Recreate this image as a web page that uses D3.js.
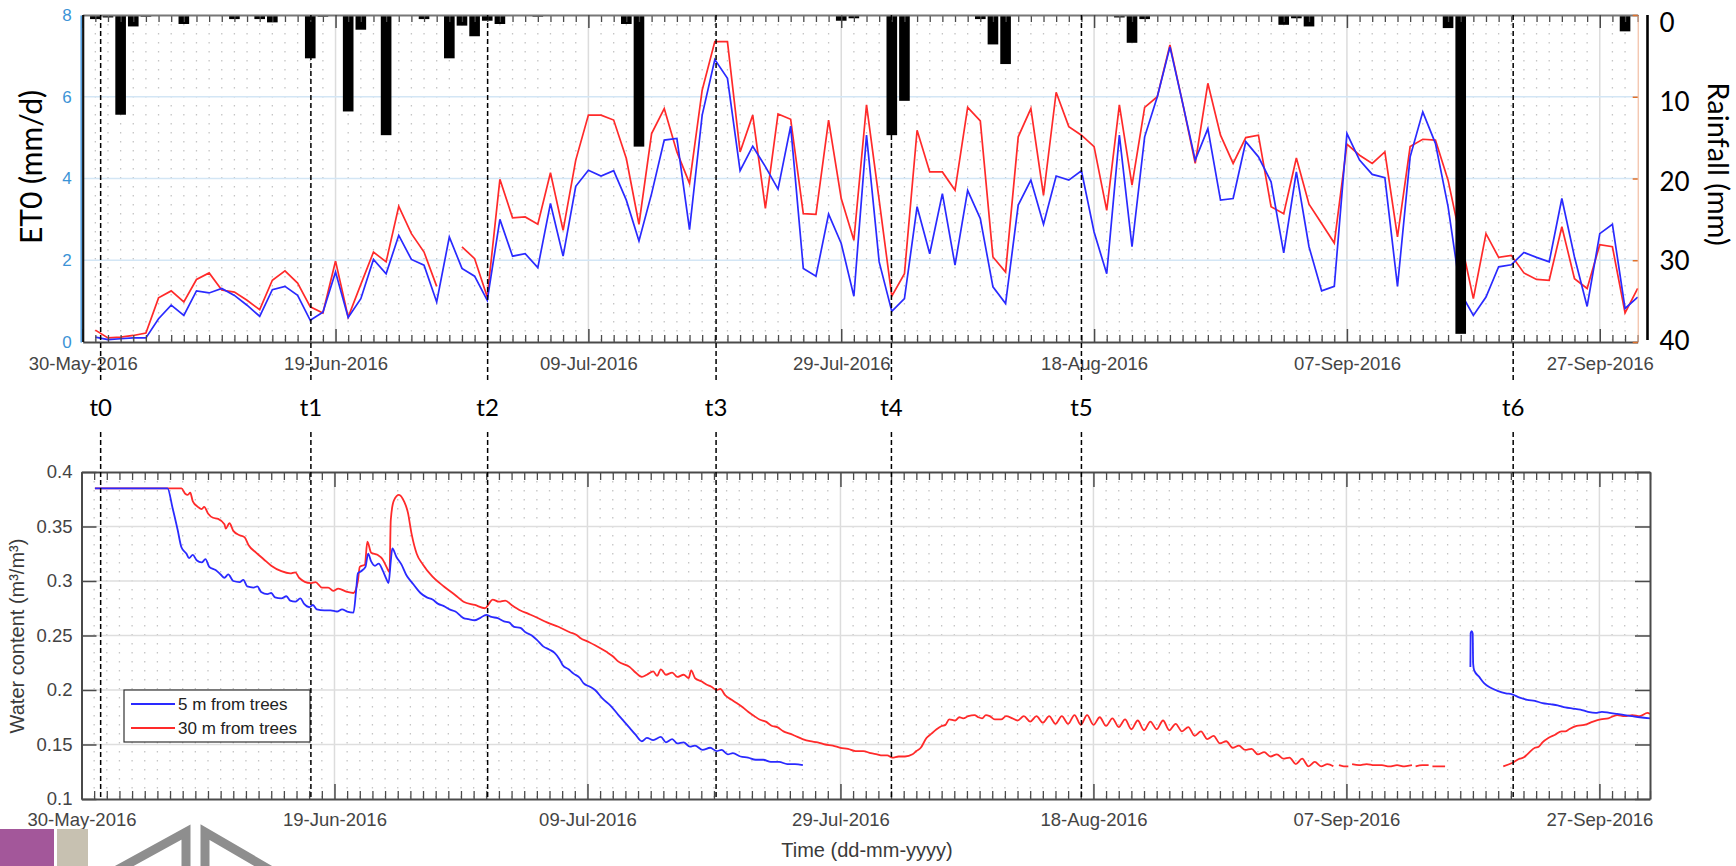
<!DOCTYPE html>
<html>
<head>
<meta charset="utf-8">
<script src="https://cdn.jsdelivr.net/npm/d3@7"></script>
<style>
  html, body { margin: 0; padding: 0; background: #fff; }
  svg { display: block; }
</style>
</head>
<body>
<svg id="chart" width="1736" height="866"></svg>
<script>
// ---------------------------------------------------------------------------
// Data (day offsets are counted from 30-May-2016 00:00)
// ---------------------------------------------------------------------------
const startDay = "2016-05-30";

// Daily ET0 (mm/d), first value on day 1 (31-May-2016)
const et0Blue = [
  0.12, 0.06, 0.08, 0.10, 0.10, 0.57, 0.90, 0.65, 1.25, 1.20,
  1.31, 1.14, 0.90, 0.63, 1.28, 1.36, 1.14, 0.53, 0.73, 1.71,
  0.60, 1.06, 2.02, 1.67, 2.61, 2.02, 1.88, 0.98, 2.57, 1.80,
  1.61, 1.02, 3.00, 2.10, 2.16, 1.82, 3.39, 2.10, 3.81, 4.20,
  4.06, 4.19, 3.47, 2.47, 3.63, 4.94, 4.98, 2.75, 5.55, 6.91,
  6.45, 4.19, 4.79, 4.29, 3.74, 5.28, 1.80, 1.61, 3.13, 2.41,
  1.12, 5.06, 1.96, 0.75, 1.06, 3.31, 2.16, 3.63, 1.88, 3.71,
  3.02, 1.35, 0.94, 3.35, 3.96, 2.88, 4.06, 3.96, 4.19, 2.69,
  1.67, 5.06, 2.33, 5.02, 6.00, 7.22, 5.85, 4.45, 5.22, 3.47,
  3.51, 4.90, 4.53, 3.92, 2.18, 4.16, 2.33, 1.25, 1.36, 5.10,
  4.45, 4.10, 4.02, 1.36, 4.53, 5.63, 4.86, 3.31, 1.20, 0.65,
  1.10, 1.84, 1.89, 2.19, 2.07, 1.96, 3.51, 2.08, 0.87, 2.65,
  2.88, 0.82, 1.10
];
const et0Red = [
  0.29, 0.10, 0.12, 0.16, 0.22, 1.08, 1.25, 0.98, 1.53, 1.69,
  1.27, 1.22, 1.02, 0.79, 1.51, 1.74, 1.44, 0.86, 0.71, 1.98,
  0.61, 1.41, 2.20, 1.96, 3.32, 2.65, 2.20, 1.36, null, 2.33,
  2.04, 1.10, 3.98, 3.04, 3.06, 2.88, 4.14, 2.73, 4.45, 5.55,
  5.55, 5.43, 4.49, 2.88, 5.10, 5.71, 4.65, 3.88, 6.16, 7.35,
  7.35, 4.65, 5.55, 3.27, 5.58, 5.45, 3.14, 3.12, 5.43, 3.51,
  2.49, 5.80, 3.47, 1.12, 1.67, 5.18, 4.16, 4.16, 3.71, 5.74,
  5.41, 2.08, 1.71, 5.02, 5.71, 3.59, 6.11, 5.27, 5.06, 4.78,
  3.22, 5.80, 3.84, 5.74, 6.00, 7.27, 5.85, 4.37, 6.33, 5.06,
  4.37, 5.00, 5.06, 3.31, 3.14, 4.50, 3.37, 2.90, 2.42, 4.84,
  4.57, 4.37, 4.65, 2.57, 4.78, 4.96, 4.94, 3.96, 2.50, 1.06,
  2.65, 2.07, 2.12, 1.69, 1.53, 1.51, 2.82, 1.55, 1.31, 2.38,
  2.33, 0.71, 1.31
];

// Daily rainfall (mm)
const rainDays = [1, 2, 3, 4, 5, 8, 12, 14, 15, 18, 19, 21, 22, 24, 27, 29, 30, 31, 32, 33,
  36, 43, 44, 60, 61, 64, 65, 71, 72, 73, 82, 83, 84, 95, 96, 97, 108, 109, 122];
const rainMm = [0.5, 0.3, 12.2, 1.4, 0.2, 1.1, 0.5, 0.5, 0.9, 5.3, 0.2, 11.8, 1.8, 14.7, 0.5, 5.3, 1.3, 2.6, 0.7, 1.1,
  0.2, 1.1, 16.1, 0.7, 0.4, 14.7, 10.5, 0.5, 3.6, 6.0, 0.3, 3.4, 0.5, 1.2, 0.4, 1.4, 1.6, 39.0, 2.0];

// Soil water content (m3/m3): [day offset, value]; null marks a data gap
const wc5m = [
  [1.06, 0.385], [6.8, 0.385], [7.2, 0.367], [7.6, 0.347], [7.9, 0.331], [8.3, 0.325], [8.5, 0.321],
  [8.8, 0.324], [9.1, 0.319], [9.5, 0.317], [9.8, 0.320], [10.1, 0.313], [10.6, 0.310], [11.0, 0.306],
  [11.3, 0.303], [11.6, 0.306], [12.0, 0.300], [12.5, 0.299], [12.8, 0.301], [13.1, 0.295], [13.6, 0.294],
  [13.9, 0.295], [14.2, 0.290], [14.7, 0.288], [15.0, 0.289], [15.3, 0.285], [15.8, 0.284], [16.2, 0.286],
  [16.5, 0.282], [16.9, 0.281], [17.3, 0.284], [17.6, 0.279], [18.0, 0.276], [18.3, 0.278], [18.6, 0.274],
  [19.2, 0.273], [19.7, 0.273], [20.2, 0.272], [20.6, 0.274], [21.0, 0.272], [21.5, 0.271], [21.7, 0.290],
  [21.85, 0.307], [22.1, 0.309], [22.45, 0.313], [22.66, 0.325], [22.9, 0.318], [23.2, 0.314], [23.5, 0.316],
  [23.8, 0.310], [24.1, 0.302], [24.27, 0.298], [24.45, 0.318], [24.57, 0.330], [24.9, 0.322], [25.3, 0.315],
  [25.7, 0.305], [26.1, 0.299], [26.5, 0.293], [26.8, 0.289], [27.3, 0.285], [27.75, 0.283], [28.2, 0.279],
  [28.65, 0.277], [29.1, 0.274], [29.56, 0.272], [30.2, 0.266], [30.6, 0.265], [31.07, 0.264], [31.5, 0.266],
  [32.0, 0.269], [32.4, 0.267], [32.9, 0.266], [33.4, 0.263], [33.8, 0.262], [34.2, 0.258], [34.7, 0.257],
  [35.1, 0.253], [35.6, 0.250], [36.0, 0.246], [36.5, 0.240], [37.0, 0.237], [37.4, 0.234], [37.8, 0.228],
  [38.03, 0.223], [38.5, 0.219], [38.9, 0.215], [39.4, 0.211], [39.7, 0.206], [40.2, 0.203], [40.6, 0.200],
  [41.2, 0.192], [41.8, 0.186], [42.45, 0.177], [42.9, 0.171], [43.35, 0.165], [43.8, 0.159], [44.3, 0.153],
  [44.7, 0.156], [45.2, 0.154], [45.8, 0.157], [46.2, 0.152], [46.7, 0.155], [47.1, 0.151], [47.6, 0.152],
  [48.1, 0.148], [48.5, 0.149], [49.1, 0.145], [49.7, 0.147], [50.2, 0.144], [50.6, 0.145], [51.1, 0.141],
  [51.5, 0.142], [52.1, 0.139], [52.7, 0.138], [53.3, 0.136], [53.9, 0.136], [54.5, 0.134], [55.15, 0.134],
  [55.8, 0.132], [56.4, 0.132], [57.03, 0.131],
  [80.0, null],
  [109.80, 0.221], [109.82, 0.252], [109.90, 0.254], [109.98, 0.252], [110.02, 0.224], [110.1, 0.218],
  [110.5, 0.212], [110.9, 0.206], [111.4, 0.202], [112.0, 0.199], [112.6, 0.197], [113.1, 0.196],
  [113.7, 0.193], [114.3, 0.191], [114.9, 0.190], [115.5, 0.188], [116.1, 0.187], [116.7, 0.186],
  [117.3, 0.184], [117.9, 0.183], [118.5, 0.182], [119.1, 0.180], [119.7, 0.179], [120.2, 0.180],
  [120.8, 0.179], [121.4, 0.178], [122.0, 0.177], [122.6, 0.176], [123.2, 0.175], [124.0, 0.174]
];
const wc30m = [
  [1.06, 0.385], [7.9, 0.385], [8.2, 0.380], [8.4, 0.379], [8.6, 0.381], [8.8, 0.373], [9.2, 0.368],
  [9.5, 0.366], [9.7, 0.368], [10.0, 0.362], [10.4, 0.358], [10.8, 0.357], [11.3, 0.352], [11.4, 0.348],
  [11.7, 0.353], [12.0, 0.346], [12.5, 0.342], [12.9, 0.340], [13.2, 0.333], [13.8, 0.326], [14.4, 0.320],
  [15.0, 0.314], [15.8, 0.309], [16.5, 0.307], [16.9, 0.308], [17.2, 0.303], [18.1, 0.298], [18.5, 0.299],
  [19.0, 0.294], [19.5, 0.294], [19.9, 0.291], [20.3, 0.293], [21.0, 0.290], [21.5, 0.289], [21.85, 0.300],
  [22.0, 0.313], [22.4, 0.315], [22.6, 0.336], [22.9, 0.326], [23.4, 0.324], [23.8, 0.320], [24.15, 0.312],
  [24.35, 0.308], [24.45, 0.356], [24.7, 0.374], [25.1, 0.379], [25.5, 0.373], [25.8, 0.363], [26.1, 0.343],
  [26.5, 0.325], [27.0, 0.315], [27.75, 0.304], [28.65, 0.295], [29.56, 0.287], [30.2, 0.281], [31.1, 0.278],
  [31.9, 0.275], [32.2, 0.279], [32.5, 0.283], [33.0, 0.281], [33.5, 0.282], [34.0, 0.278], [34.7, 0.273],
  [35.3, 0.270], [35.9, 0.267], [36.8, 0.262], [37.7, 0.258], [38.6, 0.253], [39.2, 0.250], [39.4, 0.248],
  [40.1, 0.244], [40.6, 0.241], [41.5, 0.235], [42.0, 0.231], [42.45, 0.226], [43.35, 0.221], [43.8, 0.216],
  [44.3, 0.212], [44.7, 0.214], [45.2, 0.217], [45.5, 0.213], [45.8, 0.219], [46.2, 0.214], [46.7, 0.216],
  [47.1, 0.212], [47.6, 0.214], [48.0, 0.211], [48.2, 0.218], [48.5, 0.211], [49.0, 0.208], [49.4, 0.205],
  [49.8, 0.203], [50.2, 0.200], [50.5, 0.201], [50.9, 0.195], [51.4, 0.191], [51.8, 0.188], [52.3, 0.184],
  [52.7, 0.180], [53.2, 0.176], [53.6, 0.173], [54.1, 0.171], [54.6, 0.167], [55.0, 0.166], [55.5, 0.162],
  [56.0, 0.160], [56.4, 0.158], [57.0, 0.155], [57.6, 0.153], [58.2, 0.152], [58.8, 0.150], [59.4, 0.149],
  [60.0, 0.147], [60.6, 0.146], [61.2, 0.144], [61.8, 0.144], [62.4, 0.142], [62.9, 0.141], [63.3, 0.140],
  [63.7, 0.140], [64.1, 0.138], [64.6, 0.139], [65.1, 0.139], [65.7, 0.141], [66.0, 0.144], [66.35, 0.147],
  [66.8, 0.156], [67.2, 0.160], [67.6, 0.164], [68.0, 0.167], [68.3, 0.168], [68.6, 0.173], [69.07, 0.172],
  [69.4, 0.175], [69.7, 0.174], [70.1, 0.176], [70.6, 0.177], [70.9, 0.175], [71.2, 0.174], [71.5, 0.177],
  [71.8, 0.176], [72.2, 0.173], [72.7, 0.173], [73.1, 0.176], [73.6, 0.174], [74.0, 0.172], [74.5, 0.176],
  [75.0, 0.171], [75.5, 0.176], [76.0, 0.170], [76.5, 0.176], [77.0, 0.169], [77.5, 0.176], [78.0, 0.169],
  [78.5, 0.177], [79.0, 0.168], [79.5, 0.177], [80.0, 0.168], [80.5, 0.175], [81.0, 0.167], [81.5, 0.174],
  [82.0, 0.166], [82.5, 0.173], [83.0, 0.164], [83.5, 0.172], [84.0, 0.163], [84.5, 0.171], [85.0, 0.164],
  [85.5, 0.172], [86.0, 0.163], [86.5, 0.169], [87.0, 0.162], [87.5, 0.166], [88.0, 0.158], [88.5, 0.162],
  [89.0, 0.155], [89.5, 0.158], [90.0, 0.151], [90.5, 0.153], [91.0, 0.147], [91.5, 0.149], [92.0, 0.145],
  [92.5, 0.146], [93.0, 0.141], [93.5, 0.143], [94.0, 0.139], [94.5, 0.141], [95.0, 0.137], [95.5, 0.138],
  [96.0, 0.132], [96.5, 0.137], [97.0, 0.130], [97.5, 0.134], [98.0, 0.130], [98.5, 0.132], [98.97, 0.130],
  [99.2, null],
  [99.41, 0.131], [99.8, 0.130], [100.15, 0.130],
  [100.3, null],
  [100.45, 0.132], [101.0, 0.131], [101.6, 0.132], [102.2, 0.131], [102.8, 0.131], [103.4, 0.130],
  [104.0, 0.131], [104.6, 0.130], [105.18, 0.131],
  [105.3, null],
  [105.47, 0.130], [106.0, 0.131], [106.5, 0.131],
  [106.6, null],
  [106.8, 0.130], [107.3, 0.130], [107.8, 0.130],
  [110.0, null],
  [112.4, 0.130], [113.1, 0.133], [113.7, 0.137], [114.0, 0.138], [114.3, 0.141], [114.9, 0.147],
  [115.2, 0.148], [115.5, 0.152], [115.96, 0.156], [116.5, 0.159], [117.0, 0.162], [117.3, 0.162],
  [117.6, 0.164], [118.2, 0.167], [118.8, 0.168], [119.5, 0.171], [120.1, 0.173], [120.7, 0.174],
  [121.4, 0.177], [122.0, 0.176], [122.6, 0.177], [123.2, 0.176], [123.8, 0.179], [124.0, 0.178]
];

// Event markers
const markerNames = ["t0", "t1", "t2", "t3", "t4", "t5", "t6"];
const markerDays = [1.42, 18.05, 32.03, 50.1, 63.97, 79.0, 113.15];

// Axis ticks
const et0Ticks = [0, 2, 4, 6, 8];
const rainTicks = [0, 10, 20, 30, 40];
const wcTicks = [0.1, 0.15, 0.2, 0.25, 0.3, 0.35, 0.4];
const majorTickDays = [0, 20, 40, 60, 80, 100, 120];

const seriesNames = ["5 m from trees", "30 m from trees"];
const blue = "#2a2aff", red = "#ff2a2a";

// ---------------------------------------------------------------------------
const DAY = 864e5;
const T0 = Date.parse(startDay + "T00:00:00Z");
const dayToDate = d => new Date(T0 + d * DAY);
const fmt = d3.utcFormat("%d-%b-%Y");
const mFont = "'Liberation Sans', Arial, sans-serif";
const oFont = "Lato, 'Open Sans', sans-serif";
const axisGray = "#4a4a4a";

const svg = d3.select("#chart");
svg.append("rect").attr("width", 1736).attr("height", 866).attr("fill", "#fff");

// ============================== ET0 / rainfall panel ==============================
const tb = { l: 82.7, r: 1637.7, t: 15, b: 342 };
const xTop = d3.scaleUtc().domain([dayToDate(0), dayToDate(123)]).range([tb.l, tb.r]);
const yEt = d3.scaleLinear().domain([0, 8]).range([tb.b, tb.t]);
const yRain = d3.scaleLinear().domain([0, 40]).range([tb.t, tb.b]);
const yRainLabels = d3.scaleLinear().domain([0, 40]).range([23, 341]);

const gTop = svg.append("g");

// minor (daily) dotted grid
gTop.append("g").selectAll("line")
  .data(d3.range(1, 123).filter(d => d % 20 !== 0))
  .join("line")
  .attr("x1", d => xTop(dayToDate(d))).attr("x2", d => xTop(dayToDate(d)))
  .attr("y1", tb.t).attr("y2", tb.b)
  .attr("stroke", "#c4c4c4").attr("stroke-width", 1.3).attr("stroke-dasharray", "1.4,7.6");
// major vertical grid
gTop.append("g").selectAll("line")
  .data(majorTickDays.slice(1))
  .join("line")
  .attr("x1", d => xTop(dayToDate(d))).attr("x2", d => xTop(dayToDate(d)))
  .attr("y1", tb.t).attr("y2", tb.b)
  .attr("stroke", "#dcdcdc").attr("stroke-width", 1.5);
// horizontal ET0 grid
gTop.append("g").selectAll("line")
  .data(et0Ticks.slice(1, -1))
  .join("line")
  .attr("x1", tb.l).attr("x2", tb.r)
  .attr("y1", d => yEt(d)).attr("y2", d => yEt(d))
  .attr("stroke", "#d3e6f5").attr("stroke-width", 1.5);

// ET0 lines
const etLine = d3.line()
  .defined(d => d[1] != null)
  .x(d => xTop(dayToDate(d[0])))
  .y(d => yEt(d[1]));
const asPairs = arr => arr.map((v, i) => [i + 1, v]);
gTop.append("path").datum(asPairs(et0Red)).attr("d", etLine)
  .attr("fill", "none").attr("stroke", red).attr("stroke-width", 1.7);
gTop.append("path").datum(asPairs(et0Blue)).attr("d", etLine)
  .attr("fill", "none").attr("stroke", blue).attr("stroke-width", 1.7);

// rainfall bars hanging from the top
gTop.append("g").selectAll("rect")
  .data(rainDays.map((d, i) => [d, rainMm[i]]))
  .join("rect")
  .attr("x", d => xTop(dayToDate(d[0] - 0.42)))
  .attr("width", d => xTop(dayToDate(d[0] + 0.42)) - xTop(dayToDate(d[0] - 0.42)))
  .attr("y", yRain(0))
  .attr("height", d => yRain(d[1]) - yRain(0))
  .attr("fill", "#000");

// x axes (bottom + top edges)
function styleTicks(g, color, width) {
  g.selectAll(".tick line").attr("stroke", color).attr("stroke-width", width);
}
const minorTop = d3.range(0, 124).filter(d => d % 20 !== 0).map(dayToDate);
const majorDates = majorTickDays.map(dayToDate);

gTop.append("g").attr("transform", `translate(0,${tb.b})`)
  .call(d3.axisBottom(xTop).tickValues(minorTop).tickSize(-7).tickSizeOuter(0).tickFormat(""))
  .call(g => g.select(".domain").remove())
  .call(g => styleTicks(g, axisGray, 1.3));
gTop.append("g").attr("transform", `translate(0,${tb.b})`)
  .call(d3.axisBottom(xTop).tickValues(majorDates).tickSize(-13).tickSizeOuter(0).tickPadding(15).tickFormat(fmt))
  .call(g => g.select(".domain").attr("stroke", axisGray).attr("stroke-width", 2))
  .call(g => styleTicks(g, axisGray, 1.5))
  .call(g => g.selectAll("text").attr("fill", "#444").style("font", `18.5px ${mFont}`));
gTop.append("g").attr("transform", `translate(0,${tb.t})`)
  .call(d3.axisTop(xTop).tickValues(minorTop).tickSize(-7).tickSizeOuter(0).tickFormat(""))
  .call(g => g.select(".domain").remove())
  .call(g => styleTicks(g, axisGray, 1.3));
gTop.append("g").attr("transform", `translate(0,${tb.t})`)
  .call(d3.axisTop(xTop).tickValues(majorDates).tickSize(-13).tickSizeOuter(0).tickFormat(""))
  .call(g => g.select(".domain").attr("stroke", "#777").attr("stroke-width", 2))
  .call(g => styleTicks(g, axisGray, 1.5));

// left ET0 axis
gTop.append("g").attr("transform", `translate(${tb.l - 2},0)`)
  .call(d3.axisLeft(yEt).tickValues(et0Ticks).tickSize(0).tickPadding(9).tickFormat(d3.format("d")))
  .call(g => g.select(".domain").attr("stroke", "#4b9be0").attr("stroke-width", 1.5))
  .call(g => g.selectAll("text").attr("fill", "#3b93d6").style("font", `17px ${mFont}`));
gTop.append("line")
  .attr("x1", tb.l + 0.5).attr("x2", tb.l + 0.5).attr("y1", tb.t).attr("y2", tb.b)
  .attr("stroke", "#111").attr("stroke-width", 2.2);

// right rainfall axis ticks (inside the plot box)
gTop.append("g").attr("transform", `translate(${tb.r},0)`)
  .call(d3.axisRight(yRain).tickValues(rainTicks).tickSize(-5).tickSizeOuter(0).tickFormat(""))
  .call(g => g.select(".domain").attr("stroke", "#f0b090").attr("stroke-width", 1))
  .call(g => styleTicks(g, "#e0702a", 1.5));

// rainfall scale drawn beside the plot
gTop.append("line")
  .attr("x1", 1647.5).attr("x2", 1647.5).attr("y1", yRain(0)).attr("y2", yRain(40) - 2)
  .attr("stroke", "#000").attr("stroke-width", 2.6);
gTop.append("g").attr("transform", "translate(1647.5,0)")
  .call(d3.axisRight(yRainLabels).tickValues(rainTicks).tickSize(0).tickPadding(12).tickFormat(d3.format("d")))
  .call(g => g.select(".domain").remove())
  .call(g => g.selectAll("text").attr("fill", "#000").style("font", `26px ${oFont}`));

// panel titles
svg.append("text")
  .attr("transform", "translate(42,167) rotate(-90)")
  .attr("text-anchor", "middle")
  .style("font", `30px ${oFont}`).attr("fill", "#000")
  .text("ET0 (mm/d)");
svg.append("text")
  .attr("transform", "translate(1708,164) rotate(90)")
  .attr("text-anchor", "middle")
  .style("font", `29px ${oFont}`).attr("fill", "#000")
  .text("Rainfall (mm)");

// ============================== water content panel ==============================
const bb = { l: 81.5, r: 1650, t: 472, b: 799 };
const xBot = d3.scaleUtc().domain([dayToDate(0), dayToDate(124)]).range([bb.l, bb.r]);
const yWc = d3.scaleLinear().domain([0.1, 0.4]).range([bb.b, bb.t]);

const gBot = svg.append("g");
gBot.append("g").selectAll("line")
  .data(d3.range(1, 124).filter(d => d % 20 !== 0))
  .join("line")
  .attr("x1", d => xBot(dayToDate(d))).attr("x2", d => xBot(dayToDate(d)))
  .attr("y1", bb.t).attr("y2", bb.b)
  .attr("stroke", "#c4c4c4").attr("stroke-width", 1.3).attr("stroke-dasharray", "1.4,7.6");
gBot.append("g").selectAll("line")
  .data(majorTickDays.slice(1))
  .join("line")
  .attr("x1", d => xBot(dayToDate(d))).attr("x2", d => xBot(dayToDate(d)))
  .attr("y1", bb.t).attr("y2", bb.b)
  .attr("stroke", "#dcdcdc").attr("stroke-width", 1.5);
gBot.append("g").selectAll("line")
  .data(wcTicks.slice(1, -1))
  .join("line")
  .attr("x1", bb.l).attr("x2", bb.r)
  .attr("y1", d => yWc(d)).attr("y2", d => yWc(d))
  .attr("stroke", "#dedede").attr("stroke-width", 1.6);

const wcLine = d3.line()
  .defined(d => d[1] != null)
  .curve(d3.curveMonotoneX)
  .x(d => xBot(dayToDate(d[0])))
  .y(d => yWc(d[1]));
gBot.append("path").datum(wc30m).attr("d", wcLine)
  .attr("fill", "none").attr("stroke", red).attr("stroke-width", 1.8);
gBot.append("path").datum(wc5m).attr("d", wcLine)
  .attr("fill", "none").attr("stroke", blue).attr("stroke-width", 1.8);

const minorBot = d3.range(0, 125).filter(d => d % 20 !== 0).map(dayToDate);
gBot.append("g").attr("transform", `translate(0,${bb.b})`)
  .call(d3.axisBottom(xBot).tickValues(minorBot).tickSize(-8).tickSizeOuter(0).tickFormat(""))
  .call(g => g.select(".domain").remove())
  .call(g => styleTicks(g, axisGray, 1.3));
gBot.append("g").attr("transform", `translate(0,${bb.b})`)
  .call(d3.axisBottom(xBot).tickValues(majorDates).tickSize(-15).tickSizeOuter(0).tickPadding(14).tickFormat(fmt))
  .call(g => g.select(".domain").attr("stroke", axisGray).attr("stroke-width", 2))
  .call(g => styleTicks(g, axisGray, 1.5))
  .call(g => g.selectAll("text").attr("fill", "#444").style("font", `18.5px ${mFont}`));
gBot.append("g").attr("transform", `translate(0,${bb.t})`)
  .call(d3.axisTop(xBot).tickValues(minorBot).tickSize(-8).tickSizeOuter(0).tickFormat(""))
  .call(g => g.select(".domain").remove())
  .call(g => styleTicks(g, axisGray, 1.3));
gBot.append("g").attr("transform", `translate(0,${bb.t})`)
  .call(d3.axisTop(xBot).tickValues(majorDates).tickSize(-15).tickSizeOuter(0).tickFormat(""))
  .call(g => g.select(".domain").attr("stroke", axisGray).attr("stroke-width", 2))
  .call(g => styleTicks(g, axisGray, 1.5));
gBot.append("g").attr("transform", `translate(${bb.l},0)`)
  .call(d3.axisLeft(yWc).tickValues(wcTicks).tickSize(-15).tickSizeOuter(0).tickPadding(9).tickFormat(d => String(+d.toFixed(2))))
  .call(g => g.select(".domain").attr("stroke", axisGray).attr("stroke-width", 2))
  .call(g => styleTicks(g, axisGray, 1.5))
  .call(g => g.selectAll("text").attr("fill", "#444").style("font", `18.5px ${mFont}`));
gBot.append("g").attr("transform", `translate(${bb.r},0)`)
  .call(d3.axisRight(yWc).tickValues(wcTicks).tickSize(-15).tickSizeOuter(0).tickFormat(""))
  .call(g => g.select(".domain").attr("stroke", axisGray).attr("stroke-width", 2))
  .call(g => styleTicks(g, axisGray, 1.5));

svg.append("text")
  .attr("transform", "translate(24,636) rotate(-90)")
  .attr("text-anchor", "middle")
  .style("font", `20px ${mFont}`).attr("fill", "#3a3a3a")
  .text("Water content (m\u00B3/m\u00B3)");
svg.append("text")
  .attr("x", 867).attr("y", 857)
  .attr("text-anchor", "middle")
  .style("font", `20px ${mFont}`).attr("fill", "#3a3a3a")
  .text("Time (dd-mm-yyyy)");

// legend
const lg = gBot.append("g").attr("transform", "translate(124,690)");
lg.append("rect").attr("width", 186).attr("height", 52)
  .attr("fill", "#fff").attr("stroke", "#333").attr("stroke-width", 1.2);
[blue, red].forEach((c, i) => {
  lg.append("line").attr("x1", 7).attr("x2", 51).attr("y1", 14 + i * 24).attr("y2", 14 + i * 24)
    .attr("stroke", c).attr("stroke-width", 1.8);
  lg.append("text").attr("x", 54).attr("y", 20 + i * 24)
    .style("font", `17px ${mFont}`).attr("fill", "#222").text(seriesNames[i]);
});

// ============================== event markers ==============================
const gMarks = svg.append("g");
markerDays.forEach((d, i) => {
  const x = xTop(dayToDate(d));
  [[tb.t, 382], [432, bb.b]].forEach(([y1, y2]) => {
    gMarks.append("line").attr("x1", x).attr("x2", x).attr("y1", y1).attr("y2", y2)
      .attr("stroke", "#000").attr("stroke-width", 1.5).attr("stroke-dasharray", "5,3");
  });
  gMarks.append("text").attr("x", x).attr("y", 416)
    .attr("text-anchor", "middle")
    .style("font", `24px ${oFont}`).attr("fill", "#000")
    .text(markerNames[i]);
});

// ============================== slide corner decoration ==============================
const deco = svg.append("g");
deco.append("rect").attr("x", 0).attr("y", 829).attr("width", 54).attr("height", 37).attr("fill", "#a3579a");
deco.append("rect").attr("x", 57).attr("y", 829).attr("width", 31).attr("height", 37).attr("fill", "#c7c1b1");
deco.append("path").attr("d", "M117,870 L186,832 L186,870")
  .attr("fill", "none").attr("stroke", "#8e8e8e").attr("stroke-width", 9);
deco.append("path").attr("d", "M205,870 L205,832 L270,870")
  .attr("fill", "none").attr("stroke", "#8e8e8e").attr("stroke-width", 9);
</script>
</body>
</html>
